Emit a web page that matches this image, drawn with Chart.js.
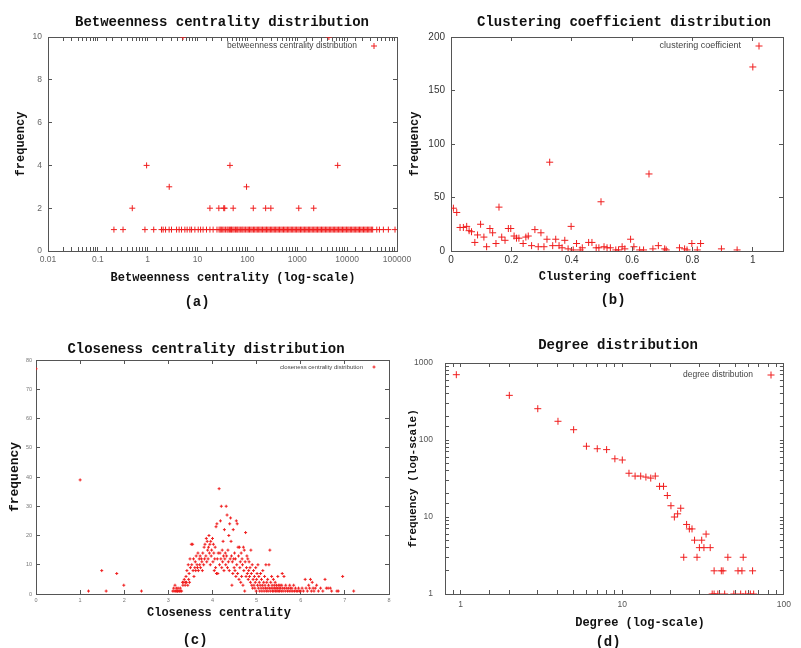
<!DOCTYPE html>
<html>
<head>
<meta charset="utf-8">
<title>Network metric distributions</title>
<script src="https://cdn.jsdelivr.net/npm/chart.js@4.4.1/dist/chart.umd.min.js"></script>
<style>
  html, body { margin: 0; padding: 0; background: #fff; }
  #page { position: relative; width: 801px; height: 648px; overflow: hidden; background: #fff; }
  #page canvas { position: absolute; left: 0; top: 0; }
</style>
</head>
<body>
<div id="page">
  <canvas id="betweennessChart" width="801" height="648"></canvas>
  <canvas id="clusteringChart" width="801" height="648"></canvas>
  <canvas id="closenessChart" width="801" height="648"></canvas>
  <canvas id="degreeChart" width="801" height="648"></canvas>
</div>
<script>
// (a) betweenness centrality, values grouped by their frequency
const btwFreq10 = [5.1, 4300];
const btwFreq4 = [0.95, 44.6, 6460];
const btwFreq3 = [2.7, 96];
const btwFreq2 = [0.49, 17.7, 26.7, 33.5, 35, 51.8, 131, 232, 295, 1070, 2135];
const btwFreq1 = [
    0.21, 0.32, 0.88, 1.32, 1.89, 2.04, 2.28, 2.69, 3.0, 3.79, 4.27, 4.77, 5.56, 6.18, 7.0, 7.58, 8.83,
    10.3, 11.5, 12.9, 15.1, 17.7, 20.5, 24.5,
    27, 28.5, 30, 32, 34, 36.5, 39, 41, 43.5, 46, 48, 51, 54, 57.5, 61, 64, 68, 72, 77, 81, 86, 92, 98,
    104, 110, 117, 124, 132, 140, 149, 158, 168, 178, 189, 201, 214, 227, 241, 256, 272, 289, 307, 326,
    346, 368, 391, 415, 441, 469, 498, 529, 562, 597, 634, 674, 716, 760, 808, 858, 912, 969,
    1030, 1090, 1160, 1230, 1310, 1390, 1480, 1570, 1670, 1770, 1880, 2000, 2130, 2260, 2400, 2550,
    2710, 2880, 3060, 3250, 3450, 3670, 3900, 4140, 4400, 4680, 4970, 5280, 5610, 5960, 6330, 6730,
    7150, 7590, 8070, 8570, 9110, 9680, 10300, 10900, 11600, 12300, 13100, 13900, 14800, 15700,
    16700, 17700, 18800, 20000, 21300, 22600, 24000, 25500, 27100, 28800, 30600, 32500,
    39300, 44400, 53300, 67100, 91300
];
const btwRange = [0.01, 100000];

// (b) clustering coefficient
const clusterCoef = [
    0.008, 0.019, 0.03, 0.041, 0.052, 0.06, 0.068, 0.079, 0.088, 0.098,
    0.109, 0.118, 0.129, 0.138, 0.149, 0.159, 0.168, 0.179, 0.19, 0.198,
    0.209, 0.217, 0.225, 0.239, 0.248, 0.256, 0.267, 0.278, 0.289, 0.298,
    0.308, 0.318, 0.327, 0.337, 0.347, 0.358, 0.368, 0.377, 0.388, 0.398,
    0.405, 0.416, 0.428, 0.435, 0.456, 0.467, 0.481, 0.49, 0.497, 0.507,
    0.517, 0.528, 0.546, 0.555, 0.567, 0.576, 0.595, 0.606, 0.625, 0.638,
    0.656, 0.669, 0.687, 0.708, 0.713, 0.757, 0.774, 0.782, 0.798, 0.816,
    0.827, 0.896, 0.948, 1.0
];
const clusterFreq = [
    40, 36, 22, 22, 23, 19, 18, 8, 15, 25,
    13, 4, 21, 17, 7, 41, 13, 10, 21, 21,
    14, 12, 12, 7, 13, 14, 5, 20, 4, 17,
    4, 11, 83, 5, 11, 5, 3, 10, 2, 23,
    1, 7, 1, 3, 8, 8, 3, 3, 46, 4,
    3, 3, 1, 1, 4, 2, 11, 4, 1, 1,
    72, 2, 5, 2, 1, 3, 2, 1, 7, 1,
    7, 2, 1, 172
];

// (c) closeness centrality
const closenessX = [
    0, 1.0, 1.19, 1.49, 1.59, 1.83, 1.99, 2.39,
    3.10, 3.12, 3.13, 3.15, 3.16, 3.18, 3.19, 3.20, 3.21, 3.22, 3.24, 3.25, 3.27, 3.28, 3.30,
    3.32, 3.33, 3.35, 3.36, 3.38, 3.39, 3.40, 3.41, 3.42, 3.44, 3.45, 3.46, 3.47, 3.48, 3.49, 3.50,
    3.52, 3.53, 3.55, 3.56, 3.57, 3.58, 3.60, 3.61, 3.62, 3.63, 3.65, 3.66, 3.67, 3.68, 3.70,
    3.71, 3.72, 3.73, 3.75, 3.76, 3.77, 3.78, 3.80, 3.81, 3.82, 3.83, 3.85, 3.86, 3.87, 3.88, 3.89, 3.90,
    3.91, 3.92, 3.93, 3.94, 3.95, 3.96, 3.97, 3.98, 4.00, 4.01, 4.02, 4.03, 4.04, 4.05, 4.06, 4.07, 4.08, 4.09, 4.10,
    4.11, 4.12, 4.13, 4.15, 4.16, 4.17, 4.18, 4.19, 4.20, 4.21, 4.22, 4.23, 4.24, 4.25, 4.26, 4.27, 4.28, 4.29, 4.30,
    4.31, 4.32, 4.33, 4.34, 4.35, 4.36, 4.37, 4.38, 4.39, 4.40, 4.41, 4.42, 4.43, 4.44, 4.45, 4.46, 4.47, 4.48, 4.49, 4.50,
    4.51, 4.52, 4.53, 4.54, 4.55, 4.56, 4.57, 4.58, 4.59, 4.60, 4.61, 4.62, 4.63, 4.64, 4.65, 4.66, 4.67, 4.68, 4.69, 4.70,
    4.71, 4.72, 4.73, 4.74, 4.75, 4.76, 4.77, 4.78, 4.79, 4.80, 4.81, 4.82, 4.83, 4.84, 4.85, 4.86, 4.87, 4.88, 4.89, 4.90,
    4.91, 4.92, 4.93, 4.94, 4.95, 4.96, 4.97, 4.98, 4.99, 5.00, 5.01, 5.02, 5.03, 5.04, 5.05, 5.06, 5.07, 5.08, 5.09, 5.10,
    5.11, 5.12, 5.13, 5.14, 5.15, 5.16, 5.17, 5.18, 5.19, 5.20, 5.21, 5.22, 5.23, 5.24, 5.25, 5.26, 5.27, 5.28, 5.29, 5.30,
    5.31, 5.32, 5.33, 5.34, 5.35, 5.36, 5.37, 5.38, 5.39, 5.40, 5.41, 5.42, 5.43, 5.44, 5.45, 5.46, 5.47, 5.48, 5.49, 5.50,
    5.51, 5.52, 5.53, 5.54, 5.56, 5.57, 5.58, 5.59, 5.60, 5.62, 5.63, 5.65, 5.66, 5.68, 5.70,
    5.72, 5.74, 5.75, 5.77, 5.78, 5.80, 5.82, 5.84, 5.86, 5.88, 5.90, 5.93, 5.95, 5.97, 6.00,
    6.03, 6.06, 6.10, 6.12, 6.15, 6.18, 6.20, 6.22, 6.24, 6.26, 6.28, 6.30, 6.33, 6.36, 6.40,
    6.45, 6.50, 6.55, 6.58, 6.62, 6.67, 6.70, 6.82, 6.85, 6.95, 7.20
];
const closenessFreq = [
    77, 39, 1, 8, 1, 7, 3, 1,
    1, 2, 1, 3, 1, 2, 1, 1, 1, 2, 1, 1, 2, 1, 1,
    4, 3, 4, 5, 3, 4, 6, 4, 8, 3, 10, 5, 7, 4, 12, 9,
    17, 10, 17, 8, 12, 6, 9, 11, 8, 13, 10, 9, 14, 8, 12,
    10, 13, 9, 12, 11, 8, 14, 10, 16, 12, 17, 13, 19, 11, 18, 15, 12,
    16, 20, 14, 17, 10, 18, 13, 15, 19, 11, 17, 14, 8, 12, 16, 9, 23, 7, 24,
    12, 7, 14, 36, 10, 14, 25, 12, 30, 9, 15, 11, 18, 13, 8, 22, 12, 14, 10,
    30, 13, 27, 9, 15, 11, 20, 8, 24, 12, 26, 18, 13, 3, 11, 7, 22, 12, 9, 14,
    8, 12, 6, 25, 10, 24, 7, 16, 13, 5, 16, 9, 11, 4, 14, 6, 12, 10, 3, 16,
    8, 15, 1, 11, 21, 6, 9, 13, 7, 12, 5, 8, 11, 6, 9, 4, 15, 7, 3, 10,
    2, 5, 8, 3, 6, 2, 4, 9, 1, 5, 7, 3, 10, 2, 6, 4, 1, 3, 7, 2,
    5, 1, 3, 8, 2, 4, 1, 6, 3, 2, 10, 1, 4, 2, 5, 1, 3, 10, 2, 15,
    1, 4, 2, 6, 3, 1, 2, 5, 1, 3, 2, 4, 1, 2, 3, 1, 2, 6, 1, 3,
    2, 1, 3, 2, 1, 3, 7, 2, 1, 6, 2, 1, 3, 2, 1,
    2, 1, 3, 2, 1, 2, 1, 3, 1, 2, 1, 1, 2, 1, 1,
    2, 1, 5, 2, 1, 3, 2, 5, 1, 4, 2, 1, 2, 3, 1,
    2, 1, 5, 2, 2, 2, 1, 1, 1, 6, 1
];

// (d) degree
const degreeX = [
    0.94, 2, 3, 4, 5, 6, 7, 8, 9, 10, 11, 12, 13, 14, 15, 16, 17, 18, 19, 20, 21, 22, 23,
    24, 25, 26, 27, 28, 29, 30, 31, 32, 33, 35, 37, 41, 42, 45, 52, 55, 56, 64,
    36, 37, 39, 43, 49, 54, 58, 62, 65
];
const degreeFreq = [
    705, 380, 255, 175, 136, 83, 77, 75, 57, 55, 37, 34, 34, 33, 32, 34, 25, 25, 19, 14, 10, 11, 13,
    3, 8, 7, 7, 5, 3, 4, 5, 4, 6, 4, 2, 2, 2, 3, 2, 2, 3, 2,
    1, 1, 1, 1, 1, 1, 1, 1, 1
];

const markColor = '#f01e1e';
const frameColor = '#555';

function pairUp(xs, ys) {
    return xs.map((x, i) => ({ x: x, y: ys[i] }));
}

function groupedPoints(groups) {
    return groups.flatMap(([freq, xs]) => xs.map(x => ({ x: x, y: freq })));
}

function powerLabel(value) {
    const e = Math.round(Math.log10(value));
    if (Math.abs(Math.log10(value) - e) > 1e-6) return '';
    return e < 0 ? Math.pow(10, e).toFixed(-e) : String(Math.pow(10, e));
}

function drawCross(ctx, x, y, r) {
    ctx.beginPath();
    ctx.moveTo(x - r, y);
    ctx.lineTo(x + r, y);
    ctx.moveTo(x, y - r);
    ctx.lineTo(x, y + r);
    ctx.stroke();
}

// titles, captions and the gnuplot-like key (text right, marker at its right)
const panelText = {
    id: 'panelText',
    afterDraw(chart, args, opts) {
        const ctx = chart.ctx;
        const ds = chart.data.datasets[0];
        ctx.save();
        ctx.textBaseline = 'middle';
        ctx.textAlign = 'center';
        ctx.fillStyle = '#111';
        ctx.font = 'bold 14px "Liberation Mono", monospace';
        ctx.fillText(opts.title, opts.titleX, opts.titleY);
        ctx.fillText(opts.caption, opts.captionX, opts.captionY);
        ctx.font = 'bold 12px "Liberation Mono", monospace';
        ctx.fillText(opts.xTitle, opts.xTitleX, opts.xTitleY);

        ctx.textAlign = 'right';
        ctx.fillStyle = '#444';
        ctx.font = opts.keySize + 'px "Liberation Sans", Arial, sans-serif';
        ctx.fillText(ds.label, opts.keyX, opts.keyY);
        ctx.strokeStyle = ds.borderColor;
        ctx.lineWidth = 1;
        drawCross(ctx, opts.markerX, opts.keyY, ds.pointRadius);
        ctx.restore();
    }
};

const panels = [
    {
        canvas: 'betweennessChart',
        label: 'betweenness centrality distribution',
        points: groupedPoints([[10, btwFreq10], [4, btwFreq4], [3, btwFreq3], [2, btwFreq2], [1, btwFreq1]]),
        radius: 3,
        area: { left: 48, top: 37, right: 397, bottom: 251 },
        x: { type: 'logarithmic', min: btwRange[0], max: btwRange[1], pad: 8, size: 8.5, color: '#666' },
        y: { type: 'linear', min: 0, max: 10, step: 2, pad: 10, size: 8.5, color: '#666',
             title: 'frequency', titleSize: 12, titleX: 21 },
        text: {
            title: 'Betweenness centrality distribution', titleX: 222, titleY: 22,
            xTitle: 'Betweenness centrality (log-scale)', xTitleX: 233, xTitleY: 278,
            caption: '(a)', captionX: 197, captionY: 302,
            keySize: 8.5, keyX: 357, keyY: 46, markerX: 374
        }
    },
    {
        canvas: 'clusteringChart',
        label: 'clustering coefficient',
        points: pairUp(clusterCoef, clusterFreq),
        radius: 3.5,
        area: { left: 451, top: 37, right: 783, bottom: 251 },
        x: { type: 'linear', min: 0, max: 1.1, step: 0.2, pad: 7, size: 10, color: '#333' },
        y: { type: 'linear', min: 0, max: 200, step: 50, pad: 10, size: 10, color: '#333',
             title: 'frequency', titleSize: 12, titleX: 415 },
        text: {
            title: 'Clustering coefficient distribution', titleX: 624, titleY: 22,
            xTitle: 'Clustering coefficient', xTitleX: 618, xTitleY: 277,
            caption: '(b)', captionX: 613, captionY: 300,
            keySize: 9, keyX: 741, keyY: 46, markerX: 759
        }
    },
    {
        canvas: 'closenessChart',
        label: 'closeness centrality distribution',
        points: pairUp(closenessX, closenessFreq),
        radius: 1.5,
        area: { left: 36, top: 360, right: 389, bottom: 594 },
        x: { type: 'linear', min: 0, max: 8, step: 1, pad: 7.4, size: 5.5, color: '#777' },
        y: { type: 'linear', min: 0, max: 80, step: 10, pad: 8, size: 5.5, color: '#777',
             title: 'frequency', titleSize: 13, titleX: 15 },
        text: {
            title: 'Closeness centrality distribution', titleX: 206, titleY: 349,
            xTitle: 'Closeness centrality', xTitleX: 219, xTitleY: 613,
            caption: '(c)', captionX: 195, captionY: 640,
            keySize: 6, keyX: 363, keyY: 367, markerX: 374
        }
    },
    {
        canvas: 'degreeChart',
        label: 'degree distribution',
        points: pairUp(degreeX, degreeFreq),
        radius: 3.5,
        area: { left: 445, top: 363, right: 793, bottom: 594 },
        x: { type: 'logarithmic', min: 0.8, max: 100, pad: 10, size: 8.5, color: '#555' },
        y: { type: 'logarithmic', min: 1, max: 1000, pad: 16, size: 8.5, color: '#555',
             title: 'frequency (log-scale)', titleSize: 11, titleX: 413 },
        text: {
            title: 'Degree distribution', titleX: 618, titleY: 345,
            xTitle: 'Degree (log-scale)', xTitleX: 640, xTitleY: 623,
            caption: '(d)', captionX: 608, captionY: 642,
            keySize: 8.5, keyX: 753, keyY: 375, markerX: 771
        }
    }
];

function axisOptions(spec, position, withLabels, fitSize) {
    const horizontal = position === 'top' || position === 'bottom';
    return {
        type: spec.type,
        position: position,
        axis: horizontal ? 'x' : 'y',
        min: spec.min,
        max: spec.max,
        grid: { drawOnChartArea: false, tickLength: -4, color: frameColor, tickColor: frameColor },
        border: { color: frameColor, width: 1 },
        ticks: {
            display: withLabels,
            autoSkip: false,
            maxRotation: 0,
            includeBounds: false,
            stepSize: spec.step,
            padding: spec.pad,
            color: spec.color,
            font: { family: '"Liberation Sans", Arial, sans-serif', size: spec.size },
            callback: spec.type === 'logarithmic' ? powerLabel : undefined
        },
        afterFit: (scale) => {
            if (horizontal) scale.height = fitSize;
            else scale.width = fitSize;
        }
    };
}

function makeChart(p) {
    const W = 801, H = 648;
    const a = p.area;
    const padLeft = a.left < 400 ? 0 : 400;
    const xAxisHeight = 20;

    const yAxis = axisOptions(p.y, 'left', true, a.left - padLeft);
    yAxis.title = {
        display: true,
        text: p.y.title,
        color: '#111',
        font: { family: '"Liberation Mono", monospace', weight: 'bold', size: p.y.titleSize },
        padding: { top: p.y.titleX - padLeft - p.y.titleSize * 0.6, bottom: 0 }
    };

    return new Chart(document.getElementById(p.canvas), {
        type: 'scatter',
        data: {
            datasets: [{
                label: p.label,
                data: p.points,
                pointStyle: 'cross',
                pointRadius: p.radius,
                pointHoverRadius: p.radius,
                borderColor: markColor,
                backgroundColor: markColor,
                borderWidth: 1
            }]
        },
        options: {
            responsive: false,
            animation: false,
            devicePixelRatio: 1,
            layout: {
                padding: { left: padLeft, top: a.top, right: W - a.right, bottom: H - a.bottom - xAxisHeight }
            },
            scales: {
                x: axisOptions(p.x, 'bottom', true, xAxisHeight),
                x2: axisOptions(p.x, 'top', false, 0),
                y: yAxis,
                y2: axisOptions(p.y, 'right', false, 0)
            },
            plugins: {
                legend: { display: false },
                tooltip: { enabled: false },
                panelText: p.text
            }
        },
        plugins: [panelText]
    });
}

panels.forEach(makeChart);
</script>
</body>
</html>
